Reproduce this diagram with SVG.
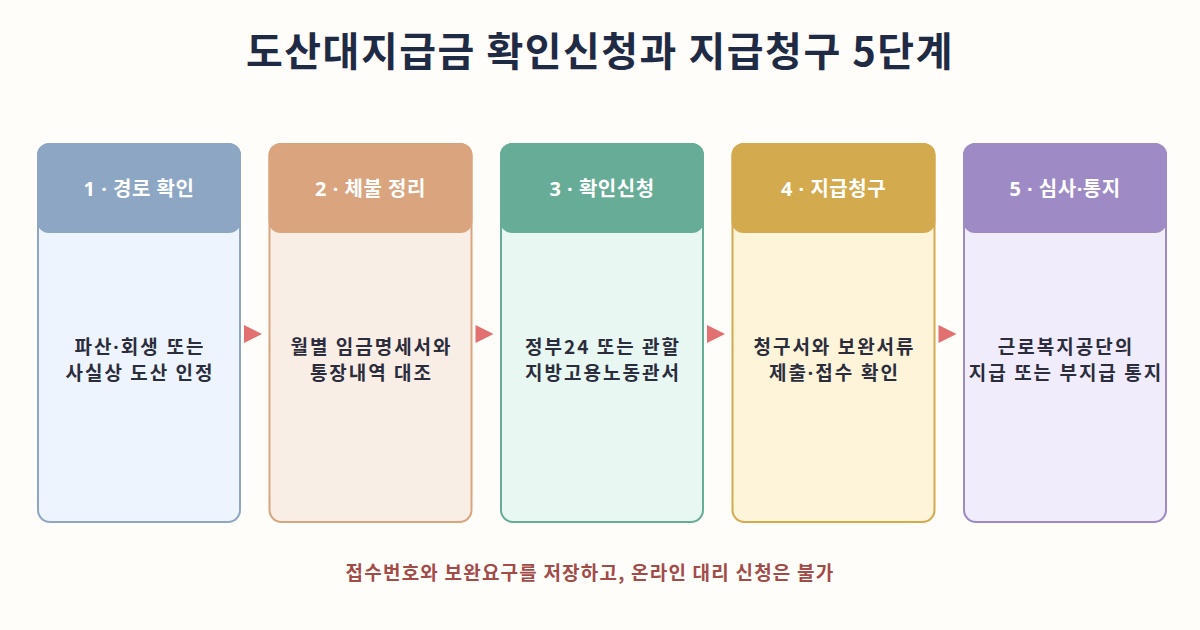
<svg xmlns="http://www.w3.org/2000/svg" width="1200" height="630" viewBox="0 0 1200 630">
<style>
text{font-family:"Noto Sans CJK KR","Noto Sans",sans-serif;text-anchor:middle}
.pd{font-family:"Noto Sans","Noto Sans CJK KR",sans-serif}
.title{font-size:40px;font-weight:700;fill:#1F2B45;letter-spacing:1.5px}
.head{font-size:20px;font-weight:700;fill:#FFFFFF;letter-spacing:0.5px}
.body{font-size:19px;font-weight:700;fill:#2B2D3C;letter-spacing:2px}
.note{font-size:19px;font-weight:600;fill:#A24B49;letter-spacing:1.2px}
.card{stroke-width:2}
.arrow{fill:#E27070}
</style>
<rect width="1200" height="630" fill="#FFFDF9"/>
<text class="title" x="600" y="66">도산대지급금 확인신청과 지급청구 5단계</text>
<g id="connectors">
<polygon class="arrow" points="244,325 262,334 244,343"/>
<polygon class="arrow" points="475.5,325 493.5,334 475.5,343"/>
<polygon class="arrow" points="707,325 725,334 707,343"/>
<polygon class="arrow" points="938.5,325 956.5,334 938.5,343"/>
</g>
<g id="step1">
<rect class="card" x="38" y="144" width="202" height="378" rx="12" fill="#EEF4FD" stroke="#8CA6C4"/>
<rect x="37" y="143" width="204" height="90" rx="12" fill="#8CA6C4"/>
<text class="head pd" x="139" y="196">1 · 경로 확인</text>
<text class="body pd" x="140" y="354">파산·회생 또는</text>
<text class="body" x="140" y="379.5">사실상 도산 인정</text>
</g>
<g id="step2">
<rect class="card" x="269.5" y="144" width="202" height="378" rx="12" fill="#F9EEE6" stroke="#D9A47E"/>
<rect x="268.5" y="143" width="204" height="90" rx="12" fill="#D9A47E"/>
<text class="head pd" x="370.5" y="196">2 · 체불 정리</text>
<text class="body" x="371.5" y="354">월별 임금명세서와</text>
<text class="body" x="371.5" y="379.5">통장내역 대조</text>
</g>
<g id="step3">
<rect class="card" x="501" y="144" width="202" height="378" rx="12" fill="#E8F7F1" stroke="#66AC96"/>
<rect x="500" y="143" width="204" height="90" rx="12" fill="#66AC96"/>
<text class="head pd" x="602" y="196">3 · 확인신청</text>
<text class="body" x="603" y="354">정부24 또는 관할</text>
<text class="body" x="603" y="379.5">지방고용노동관서</text>
</g>
<g id="step4">
<rect class="card" x="732.5" y="144" width="202" height="378" rx="12" fill="#FEF4DA" stroke="#D4AA4E"/>
<rect x="731.5" y="143" width="204" height="90" rx="12" fill="#D4AA4E"/>
<text class="head pd" x="833.5" y="196">4 · 지급청구</text>
<text class="body" x="834.5" y="354">청구서와 보완서류</text>
<text class="body pd" x="834.5" y="379.5">제출·접수 확인</text>
</g>
<g id="step5">
<rect class="card" x="964" y="144" width="202" height="378" rx="12" fill="#F0ECFB" stroke="#9E8AC4"/>
<rect x="963" y="143" width="204" height="90" rx="12" fill="#9E8AC4"/>
<text class="head pd" x="1065" y="196">5 · 심사·통지</text>
<text class="body" x="1066" y="354">근로복지공단의</text>
<text class="body" x="1066" y="379.5">지급 또는 부지급 통지</text>
</g>
<text class="note" x="590" y="580">접수번호와 보완요구를 저장하고, 온라인 대리 신청은 불가</text>
</svg>
